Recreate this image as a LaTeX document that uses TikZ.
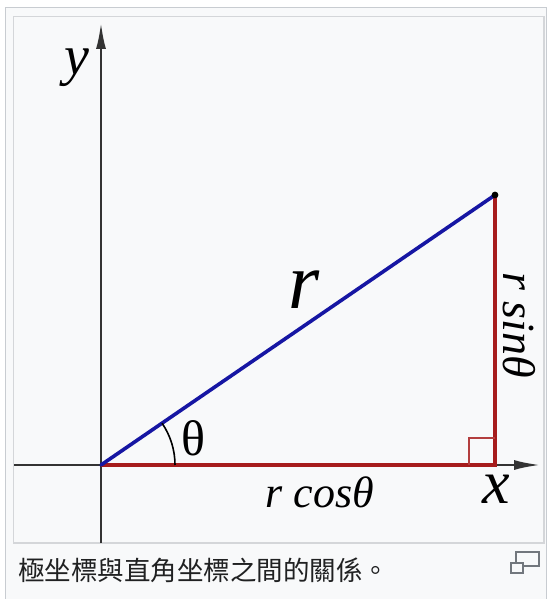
\documentclass[tikz,border=0pt]{standalone}
\usepackage{fontspec}
\setmainfont{Liberation Serif}
\newfontfamily\cjk{Noto Sans CJK TC}
\usetikzlibrary{arrows.meta}
\definecolor{framebg}{HTML}{F8F9FA}
\definecolor{frameline}{HTML}{C8CCD1}
\definecolor{innerline}{HTML}{D4D6D9}
\definecolor{axisgray}{HTML}{333333}
\definecolor{rblue}{HTML}{1616A3}
\definecolor{legred}{HTML}{A61C1C}
\definecolor{icongray}{HTML}{72777D}
\definecolor{captext}{HTML}{202122}

\begin{document}
\begin{tikzpicture}[x=1pt,y=-1pt,
  axisline/.style={axisgray,line width=2.8pt,-{Latex[length=27pt,width=10pt]}},
  rline/.style={rblue,line width=3.6pt,line cap=round},
  legline/.style={legred,line width=3.6pt},
  lbl/.style={inner sep=0pt,anchor=base}]
  \useasboundingbox[fill=white] (0,0) rectangle (548,599);
  \fill[framebg] (5.5,7.5) rectangle (546.5,599);
  \draw[frameline,line width=1.2pt] (5.5,599) -- (5.5,7.5) -- (546.5,7.5) -- (546.5,599);
  \draw[innerline,line width=1.2pt] (13.5,16.5) rectangle (544,543);

  \coordinate (O) at (101,465);
  \coordinate (P) at (495,195);
  \coordinate (F) at (495,465);
  \coordinate (xstart) at (14,465);
  \coordinate (xend) at (541,465);
  \coordinate (ystart) at (101,543);
  \coordinate (yend) at (101,22);

  \draw[axisline] (xstart) -- (xend);
  \draw[axisline] (ystart) -- (yend);
  \draw[legline] (O) -- (F) -- (P);
  \draw[rline] (O) -- (P);
  \draw[legred!85!white,line width=1.6pt] (469,465) -- (469,438) -- (495,438);
  \draw[black,line width=1.6pt] (175,465) arc[start angle=0,end angle=-34.4,radius=74];
  \fill[black] (P) circle (3.4);

  \node[lbl,font=\fontsize{56}{60}\selectfont\itshape] (ylabel) at (77,75) {y};
  \node[lbl,font=\fontsize{62}{66}\selectfont\itshape] (xlabel) at (496,503) {x};
  \node[lbl,font=\fontsize{80}{84}\selectfont\itshape] (rlabel) at (304,308) {r};
  \node[lbl,font=\fontsize{50}{54}\selectfont] (thetalabel) at (193,455) {θ};
  \node[lbl,font=\fontsize{44}{48}\selectfont\itshape] (coslabel) at (320,507) {r cosθ};
  \node[lbl,font=\fontsize{46}{50}\selectfont\itshape,rotate=-90] (sinlabel) at (503,325) {r sinθ};

  \node[anchor=base west,inner sep=0pt,captext,font=\cjk\fontsize{26.5}{30}\selectfont] (caption) at (18,580) {極坐標與直角坐標之間的關係。};
  \draw[icongray,line width=1.8pt] (516,552) rectangle (539,566);
  \draw[icongray,line width=1.8pt,fill=framebg] (511,563) rectangle (523,573);
\end{tikzpicture}
\end{document}
